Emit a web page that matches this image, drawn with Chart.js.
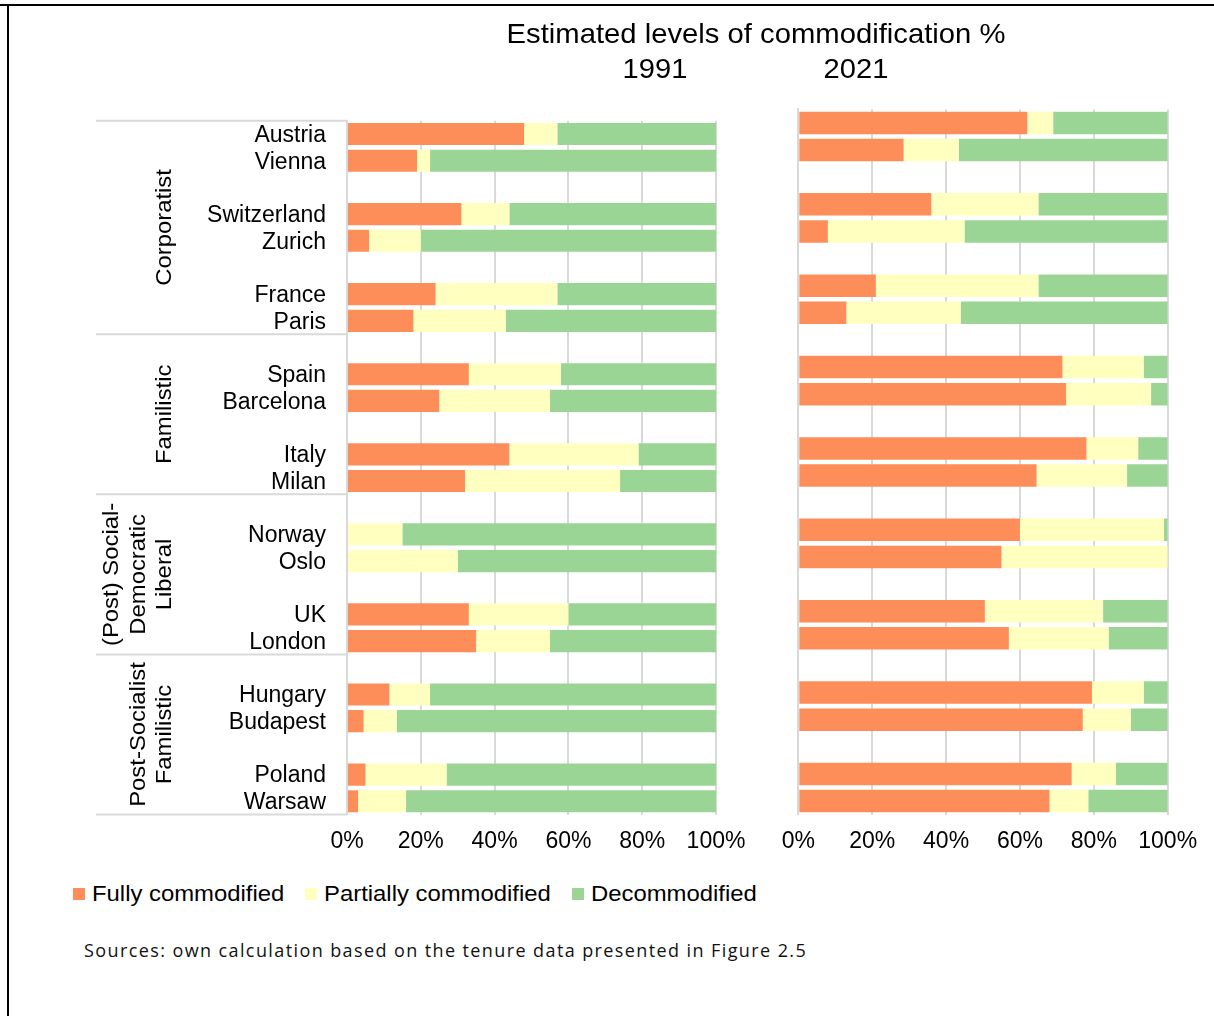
<!DOCTYPE html>
<html>
<head>
<meta charset="utf-8">
<script src="https://cdn.jsdelivr.net/npm/chart.js@4/dist/chart.umd.min.js"></script>
<style>
  html, body { margin: 0; padding: 0; background: #fff; }
  #wrap { position: relative; width: 1214px; height: 1016px; overflow: hidden; background: #fff; font-family: "Liberation Sans", Arial, sans-serif; color: #000; }
  canvas { position: absolute; top: 0; }
  .txt { position: absolute; white-space: nowrap; line-height: 1; }
  .sq { position: absolute; width: 12px; height: 12px; }
</style>
</head>
<body>
<div id="wrap">
  <div style="position:absolute;left:0;top:4px;width:1214px;height:2px;background:#000"></div>
  <div style="position:absolute;left:7px;top:4px;width:2px;height:1012px;background:#000"></div>
  <canvas id="c1" width="760" height="880" style="left:0"></canvas>
  <canvas id="c2" width="454" height="880" style="left:760px"></canvas>
  <div id="title" class="txt" style="font-size:28px;top:19.5px;left:756px;transform:translateX(-50%) scaleX(1.044)"></div>
  <div id="y1" class="txt" style="font-size:28px;top:54.5px;left:655px;transform:translateX(-50%) scaleX(1.04)"></div>
  <div id="y2" class="txt" style="font-size:28px;top:54.5px;left:856px;transform:translateX(-50%) scaleX(1.04)"></div>
  <div id="legend"></div>
  <div id="source" class="txt" style="font-family:'Open Sans','Noto Sans',sans-serif;font-size:18px;top:941px;left:84px;color:#111;letter-spacing:1.4px"></div>
</div>
<script>
// ---------- DATA ----------
const titleText = 'Estimated levels of commodification %';
const years = ['1991', '2021'];
const categories = ['Austria','Vienna','Switzerland','Zurich','France','Paris','Spain','Barcelona','Italy','Milan','Norway','Oslo','UK','London','Hungary','Budapest','Poland','Warsaw'];
const groupNames = [['Corporatist'], ['Familistic'], ['(Post) Social-','Democratic','Liberal'], ['Post-Socialist','Familistic']];
const groupSizes = [6, 4, 4, 4];
const seriesNames = ['Fully commodified', 'Partially commodified', 'Decommodified'];
const full1991    = [48, 19,   31,  6, 24, 18, 33, 25, 44, 32,  0,  0, 33, 35, 11.5,  4.5,  5,  3];
const partial1991 = [ 9,  3.5, 13, 14, 33, 25, 25, 30, 35, 42, 15, 30, 27, 20, 11,    9,   22, 13];
const decom1991   = [43, 77.5, 56, 80, 43, 57, 42, 45, 21, 26, 85, 70, 40, 45, 77.5, 86.5, 73, 84];
const full2021    = [62, 28.5, 36,  8, 21, 13, 71.5, 72.5, 78, 64.5, 60, 55, 50.5, 57, 79.5, 77, 74, 68];
const partial2021 = [ 7, 15,   29, 37, 44, 31, 22,   23,   14, 24.5, 39, 45, 32,   27, 14,   13, 12, 10.5];
const decom2021   = [31, 56.5, 35, 55, 35, 56,  6.5,  4.5,  8, 11,    1,  0, 17.5, 16,  6.5, 10, 14, 21.5];
const xTicks = [0, 20, 40, 60, 80, 100];
const sourceText = 'Sources: own calculation based on the tenure data presented in Figure 2.5';

// ---------- STYLE ----------
const colors = ['#FD8D59', '#FFFFBF', '#9BD596'];
const FONT = '"Liberation Sans", Arial, sans-serif';
const gridColor = '#D9D9D9';

// Build slots: pairs of categories separated by blank rows
const slotLabels = [];
const slotIndex = [];
categories.forEach((c, i) => {
  slotIndex.push(slotLabels.length);
  slotLabels.push(c);
  if (i % 2 === 1 && i < categories.length - 1) slotLabels.push('');
});
function toSlots(arr) {
  const out = slotLabels.map(() => null);
  arr.forEach((v, i) => { out[slotIndex[i]] = v; });
  return out;
}

function makeDatasets(f, p, d) {
  return [f, p, d].map((arr, k) => ({
    label: seriesNames[k],
    data: toSlots(arr),
    backgroundColor: colors[k],
    borderWidth: 0,
    categoryPercentage: 1,
    barPercentage: 0.83
  }));
}

function xScale() {
  return {
    type: 'linear', stacked: true, min: 0, max: 100,
    afterBuildTicks: s => { s.ticks = xTicks.map(v => ({ value: v })); },
    afterFit: s => { s.height = 40; },
    grid: { color: gridColor, lineWidth: 2, drawTicks: false },
    border: { display: false },
    ticks: { callback: v => v + '%', color: '#000', font: { family: FONT, size: 23 }, padding: 13, maxRotation: 0, autoSkip: false }
  };
}

const groupPlugin = {
  id: 'groups',
  afterDraw(chart) {
    const ys = chart.scales.y;
    const ctx = chart.ctx;
    const half = (ys.getPixelForValue(1) - ys.getPixelForValue(0)) / 2;
    const bounds = [];
    let start = 0;
    let prevBottom = ys.getPixelForValue(slotIndex[0]) - half;
    groupSizes.forEach(n => {
      const lastSlot = slotIndex[start + n - 1];
      const bottom = ys.getPixelForValue(lastSlot) + half;
      bounds.push([prevBottom, bottom]);
      prevBottom = bottom;
      start += n;
    });
    ctx.save();
    ctx.strokeStyle = gridColor;
    ctx.lineWidth = 2;
    const ys2 = [bounds[0][0]].concat(bounds.map(b => b[1]));
    ys2.forEach(y => {
      ctx.beginPath();
      ctx.moveTo(96, y);
      ctx.lineTo(chart.chartArea.left, y);
      ctx.stroke();
    });
    ctx.fillStyle = '#000';
    ctx.font = '22px ' + FONT;
    ctx.textAlign = 'center';
    ctx.textBaseline = 'middle';
    groupNames.forEach((names, g) => {
      const yc = (bounds[g][0] + bounds[g][1]) / 2;
      names.forEach((line, k) => {
        const x = 165 - (names.length - 1 - k) * 26.5;
        ctx.save();
        ctx.translate(x, yc);
        ctx.rotate(-Math.PI / 2);
        ctx.scale(1.085, 1);
        ctx.fillText(line, 0, 0);
        ctx.restore();
      });
    });
    ctx.restore();
  }
};

new Chart(document.getElementById('c1'), {
  type: 'bar',
  data: { labels: slotLabels, datasets: makeDatasets(full1991, partial1991, decom1991) },
  options: {
    indexAxis: 'y', responsive: false, animation: false, devicePixelRatio: 1,
    layout: { padding: { top: 120.7, right: 44, bottom: 25.4, left: 0 } },
    plugins: { legend: { display: false }, tooltip: { enabled: false } },
    scales: {
      x: xScale(),
      y: {
        type: 'category', stacked: true,
        afterFit: s => { s.width = 347; },
        grid: { display: false, drawTicks: false },
        border: { display: true, color: gridColor, width: 2 },
        ticks: { color: '#000', font: { family: FONT, size: 23 }, padding: 21, autoSkip: false, labelOffset: 1.5 }
      }
    }
  },
  plugins: [groupPlugin]
});

new Chart(document.getElementById('c2'), {
  type: 'bar',
  data: { labels: slotLabels, datasets: makeDatasets(full2021, partial2021, decom2021) },
  options: {
    indexAxis: 'y', responsive: false, animation: false, devicePixelRatio: 1,
    layout: { padding: { top: 109.4, right: 46.3, bottom: 25.4, left: 0 } },
    plugins: { legend: { display: false }, tooltip: { enabled: false } },
    scales: {
      x: xScale(),
      y: {
        type: 'category', stacked: true,
        afterFit: s => { s.width = 38.3; },
        grid: { display: false, drawTicks: false },
        border: { display: true, color: gridColor, width: 2 },
        ticks: { display: false }
      }
    }
  }
});

document.getElementById('title').textContent = titleText;
document.getElementById('y1').textContent = years[0];
document.getElementById('y2').textContent = years[1];
document.getElementById('source').textContent = sourceText;
const legendX = [73, 305, 572];
const leg = document.getElementById('legend');
seriesNames.forEach((n, k) => {
  const sq = document.createElement('div');
  sq.className = 'sq';
  sq.style.left = legendX[k] + 'px';
  sq.style.top = '888px';
  sq.style.background = colors[k];
  leg.appendChild(sq);
  const t = document.createElement('div');
  t.className = 'txt';
  t.style.left = (legendX[k] + 18.5) + 'px';
  t.style.top = '882.5px';
  t.style.fontSize = '22px';
  t.style.transform = 'scaleX(1.085)';
  t.style.transformOrigin = 'left center';
  t.textContent = n;
  leg.appendChild(t);
});
</script>
</body>
</html>
